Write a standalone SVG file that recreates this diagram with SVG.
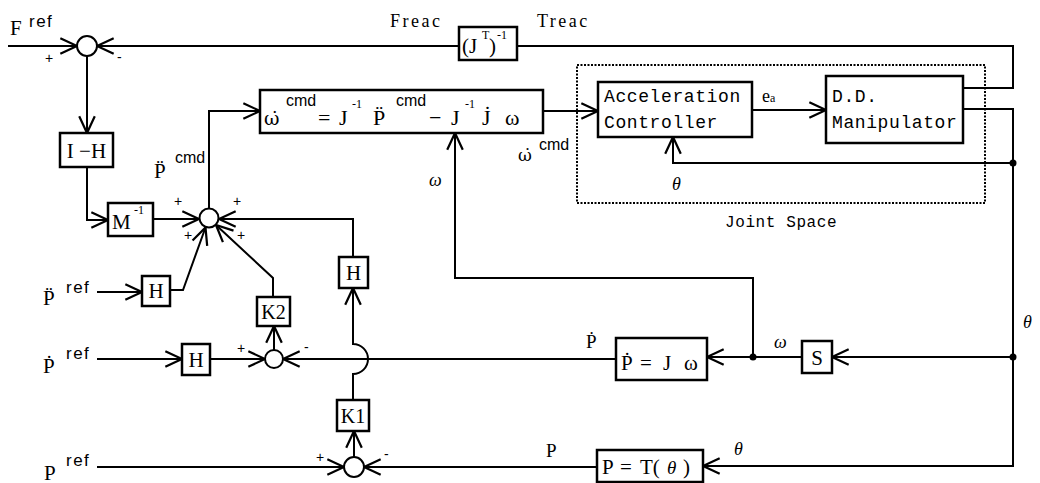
<svg xmlns="http://www.w3.org/2000/svg" width="1040" height="483" viewBox="0 0 1040 483">
<style>
.ln{fill:none;stroke:#000;stroke-width:2}
.bx{fill:#fff;stroke:#000;stroke-width:2.5}
.sj{fill:#fff;stroke:#000;stroke-width:2}
.se{font-family:"Liberation Serif","DejaVu Serif",serif;font-size:21px;fill:#000}
.dv{font-family:"DejaVu Serif",serif;font-size:19px;fill:#000}
.sm{font-family:"Liberation Serif",serif;font-size:12px;fill:#000}
.sa{font-family:"Liberation Sans",sans-serif;font-size:16px;fill:#000}
.rf{font-family:"Liberation Sans",sans-serif;font-size:17px;letter-spacing:1.5px;fill:#000}
.mo{font-family:"Liberation Mono",monospace;font-size:18px;letter-spacing:0.6px;fill:#000}
.it{font-family:"Liberation Serif","DejaVu Serif",serif;font-style:italic;font-size:18px;fill:#000}
.pl{font-family:"Liberation Sans",sans-serif;font-size:14px;fill:#000}
</style>
<defs>
<marker id="ar" markerUnits="userSpaceOnUse" markerWidth="20" markerHeight="20" viewBox="-16 -9 18 18" refX="0" refY="0" orient="auto">
<path d="M-15,-7 L0,0 L-15,7" fill="none" stroke="#000" stroke-width="2"/>
</marker>
</defs>

<g id="connectors">
<path class="ln" d="M8,46 H77" marker-end="url(#ar)"/>
<path class="ln" d="M963,88 H1013 V46 H97" marker-end="url(#ar)"/>
<path class="ln" d="M87,56 V133" marker-end="url(#ar)"/>
<path class="ln" d="M87,167 V220 H108" marker-end="url(#ar)"/>
<path class="ln" d="M153,219 H199" marker-end="url(#ar)"/>
<path class="ln" d="M209,208 V111 H260" marker-end="url(#ar)"/>
<path class="ln" d="M543,111 H598" marker-end="url(#ar)"/>
<path class="ln" d="M752,110 H826" marker-end="url(#ar)"/>
<path class="ln" d="M963,109 H1013 V466 H703" marker-end="url(#ar)"/>
<path class="ln" d="M1013,163 H673 V137" marker-end="url(#ar)"/>
<path class="ln" d="M1013,357 H832" marker-end="url(#ar)"/>
<path class="ln" d="M802,357 H707" marker-end="url(#ar)"/>
<path class="ln" d="M753,357 V278 H455 V133" marker-end="url(#ar)"/>
<path class="ln" d="M616,359 H283" marker-end="url(#ar)"/>
<path class="ln" d="M97,359 H182" marker-end="url(#ar)"/>
<path class="ln" d="M210,359 H265" marker-end="url(#ar)"/>
<path class="ln" d="M274,350 V326" marker-end="url(#ar)"/>
<path class="ln" d="M273,297 V278 L216,225" marker-end="url(#ar)"/>
<path class="ln" d="M97,292 H142" marker-end="url(#ar)"/>
<path class="ln" d="M170,290 H183 L205.5,227.5" marker-end="url(#ar)"/>
<path class="ln" d="M353,257 V219 H219" marker-end="url(#ar)"/>
<path class="ln" d="M353,400 V374 A15,15 0 0 0 353,344 V288" marker-end="url(#ar)"/>
<path class="ln" d="M354,457 V431" marker-end="url(#ar)"/>
<path class="ln" d="M97,467 H344" marker-end="url(#ar)"/>
<path class="ln" d="M597,467 H364" marker-end="url(#ar)"/>
<circle cx="1013" cy="163" r="3.5" fill="#000"/>
<circle cx="1013" cy="357" r="3.5" fill="#000"/>
<circle cx="753" cy="357" r="3.5" fill="#000"/>
</g>

<g id="joint-space">
<rect x="577" y="65" width="408" height="138" fill="none" stroke="#000" stroke-width="2" stroke-dasharray="2,1.5"/>
<text class="mo" x="725" y="227" style="font-size:16px">Joint Space</text>
</g>

<g id="sum-top">
<circle class="sj" cx="87" cy="46" r="10"/>
<text class="pl" x="45" y="63">+</text>
<text class="pl" x="117" y="62">-</text>
</g>

<g id="sum-main">
<circle class="sj" cx="209" cy="218" r="9.5"/>
<text class="pl" x="174" y="206">+</text>
<text class="pl" x="184" y="240">+</text>
<text class="pl" x="233" y="206">+</text>
<text class="pl" x="237" y="240">+</text>
</g>

<g id="sum-mid">
<circle class="sj" cx="274" cy="359" r="9"/>
<text class="pl" x="237" y="353">+</text>
<text class="pl" x="304" y="352">-</text>
</g>

<g id="sum-bottom">
<circle class="sj" cx="354" cy="467" r="10"/>
<text class="pl" x="316" y="462">+</text>
<text class="pl" x="384" y="459">-</text>
</g>

<g id="labels">
<text class="se" x="10" y="35">F</text>
<text class="rf" x="29" y="27">ref</text>
<text class="se" x="390" y="27" style="font-size:18px;letter-spacing:2.5px">Freac</text>
<text class="se" x="537" y="27" style="font-size:18px;letter-spacing:2.5px">Treac</text>
<text class="se" x="154" y="178">P̈</text>
<text class="sa" x="175" y="163">cmd</text>
<text class="se" x="43" y="305">P̈</text>
<text class="rf" x="66" y="293">ref</text>
<text class="se" x="43" y="373">Ṗ</text>
<text class="rf" x="66" y="359">ref</text>
<text class="se" x="44" y="480">P</text>
<text class="rf" x="66" y="466">ref</text>
<text class="it" x="429" y="186">ω</text>
<text class="dv" x="518" y="161" style="font-size:17px">ω̇</text>
<text class="sa" x="539" y="150">cmd</text>
<text class="se" x="762" y="102" style="font-size:18px">e<tspan style="font-size:12px">a</tspan></text>
<text class="it" x="672" y="190">θ</text>
<text class="it" x="1023" y="328">θ</text>
<text class="it" x="774" y="348">ω</text>
<text class="se" x="586" y="348" style="font-size:19px">Ṗ</text>
<text class="se" x="546" y="457" style="font-size:19px">P</text>
<text class="it" x="734" y="455">θ</text>
</g>

<g id="jt-inv">
<rect class="bx" x="459" y="27" width="58" height="33"/>
<text class="se" x="462" y="53">(J</text>
<text class="sm" x="482" y="39">T</text>
<text class="se" x="489" y="53">)</text>
<text class="sm" x="497" y="39">-1</text>
</g>

<g id="i-h">
<rect class="bx" x="60" y="133" width="53" height="34"/>
<text class="se" x="86.5" y="158" text-anchor="middle">I −H</text>
</g>

<g id="m-inv">
<rect class="bx" x="108" y="203" width="45" height="33"/>
<text class="se" x="112" y="229">M</text>
<text class="sm" x="134" y="214">-1</text>
</g>

<g id="h-acc">
<rect class="bx" x="142" y="276" width="28" height="30"/>
<text class="se" x="156" y="298" text-anchor="middle">H</text>
</g>

<g id="h-vel">
<rect class="bx" x="182" y="344" width="28" height="31"/>
<text class="se" x="196" y="367" text-anchor="middle">H</text>
</g>

<g id="h-pos">
<rect class="bx" x="339" y="257" width="29" height="31"/>
<text class="se" x="353.5" y="280" text-anchor="middle">H</text>
</g>

<g id="k2">
<rect class="bx" x="257" y="297" width="33" height="29"/>
<text class="se" x="273.5" y="319" text-anchor="middle" style="font-size:20px">K2</text>
</g>

<g id="k1">
<rect class="bx" x="337" y="400" width="32" height="31"/>
<text class="se" x="353" y="423" text-anchor="middle" style="font-size:20px">K1</text>
</g>

<g id="omega-cmd">
<rect class="bx" x="260" y="90" width="283" height="43"/>
<text class="dv" x="264" y="125">ω̇</text>
<text class="sa" x="286" y="106">cmd</text>
<text class="se" x="318" y="125" style="font-size:22px">=</text>
<text class="se" x="339" y="125" style="font-size:22px">J</text>
<text class="sm" x="352" y="108">-1</text>
<text class="se" x="373" y="125" style="font-size:22px">P̈</text>
<text class="sa" x="396" y="106">cmd</text>
<text class="se" x="429" y="125" style="font-size:22px">−</text>
<text class="se" x="451" y="125" style="font-size:22px">J</text>
<text class="sm" x="465" y="108">-1</text>
<text class="se" x="482" y="125" style="font-size:22px">J̇</text>
<text class="se" x="505" y="125" style="font-size:22px">ω</text>
</g>

<g id="accel-ctrl">
<rect class="bx" x="598" y="82" width="154" height="55"/>
<text class="mo" x="604" y="102">Acceleration</text>
<text class="mo" x="604" y="128">Controller</text>
</g>

<g id="dd-manip">
<rect class="bx" x="826" y="76" width="137" height="67"/>
<text class="mo" x="832" y="102">D.D.</text>
<text class="mo" x="832" y="128">Manipulator</text>
</g>

<g id="p-jw">
<rect class="bx" x="616" y="338" width="91" height="42"/>
<text class="se" x="621" y="370">Ṗ</text>
<text class="se" x="640" y="370">=</text>
<text class="se" x="663" y="370">J</text>
<text class="se" x="684" y="370">ω</text>
</g>

<g id="s-box">
<rect class="bx" x="802" y="341" width="30" height="32"/>
<text class="se" x="817" y="365" text-anchor="middle">S</text>
</g>

<g id="p-t">
<rect class="bx" x="597" y="450" width="106" height="32"/>
<text class="se" x="602" y="474">P</text>
<text class="se" x="620" y="474">=</text>
<text class="se" x="640" y="474">T(</text>
<text class="it" x="667" y="474" style="font-size:19px">θ</text>
<text class="se" x="683" y="474">)</text>
</g>
</svg>
